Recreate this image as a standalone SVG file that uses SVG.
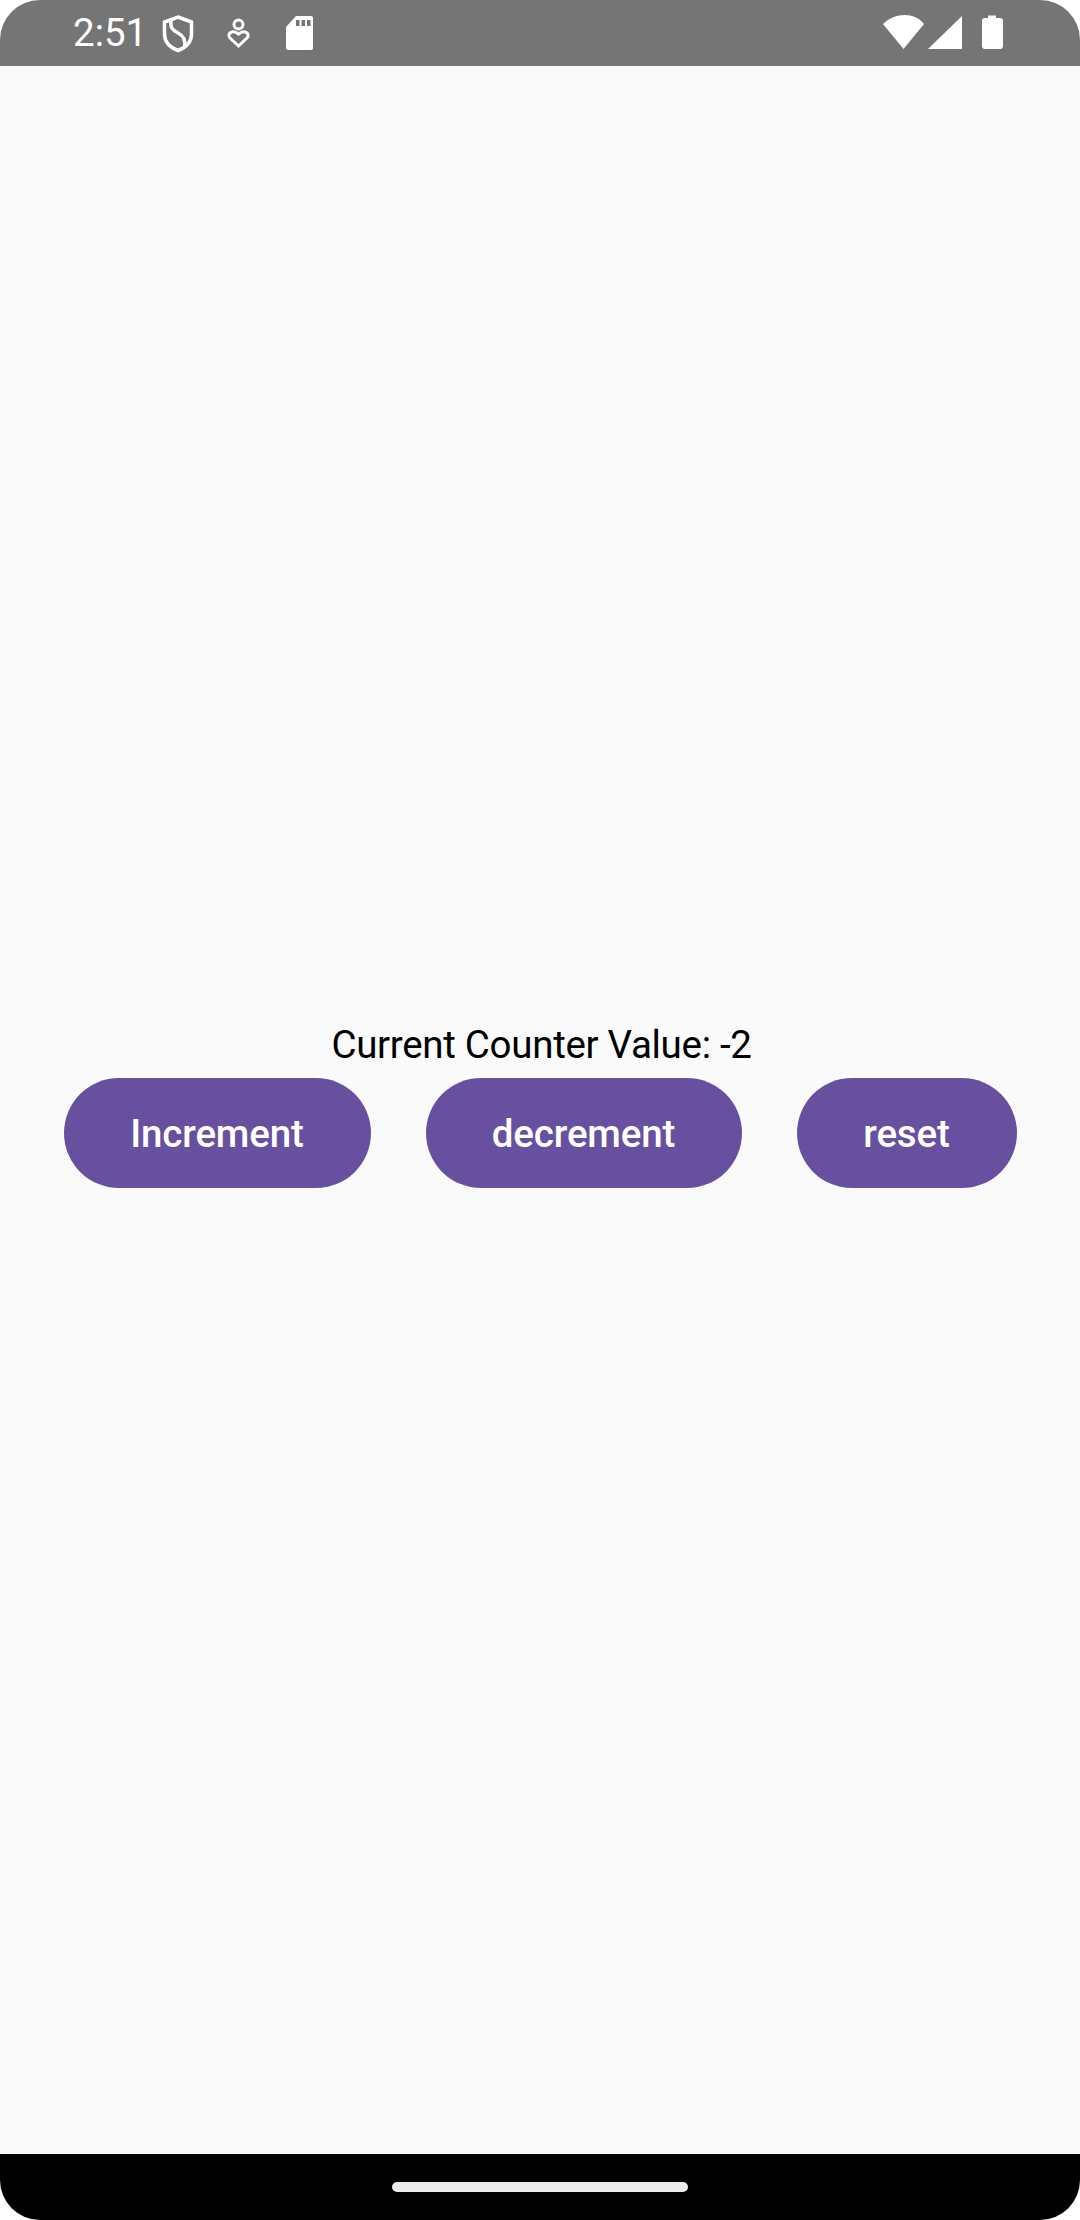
<svg xmlns="http://www.w3.org/2000/svg" width="1080" height="2220" viewBox="0 0 1080 2220">
<style>
.t{font-family:Roboto,"Liberation Sans",sans-serif}
.btn{fill:#67509f}
.lbl{font-size:38.5px;font-weight:500;fill:#fff;text-anchor:middle;letter-spacing:-0.15px}
.ic{fill:#fff}
.ol{fill:none;stroke:#fff}
</style>
<rect width="1080" height="2220" fill="#fff"/>
<path d="M0 40A40 40 0 0 1 40 0H1040A40 40 0 0 1 1080 40V2180A40 40 0 0 1 1040 2220H40A40 40 0 0 1 0 2180Z" fill="#fafafa"/>
<g id="status-bar">
<path d="M0 66V40A40 40 0 0 1 40 0H1040A40 40 0 0 1 1080 40V66Z" fill="#757575"/>
<text class="t" x="73" y="46" font-size="38.5" fill="#fff">2:51</text>
<path class="ol" stroke-width="3.5" d="M178 17L191.500 22V34C191.500 42 186 47.500 178 50.500C170 47.500 164.500 42 164.500 34V22Z"/>
<path class="ol" stroke-width="3.500" d="M171 20C170 27 172 30 178 33C184 36 186 40 184.500 47"/>
<circle class="ol" stroke-width="3" cx="238.500" cy="24.500" r="4.500"/>
<path class="ol" stroke-width="3" d="M238.500 46L230 38C226.500 34 232 29 238.500 34C245 29 250.500 34 247 38Z"/>
<path class="ic" d="M296 16H311A2 2 0 0 1 313 18V48A2 2 0 0 1 311 50H288A2 2 0 0 1 286 48V27Z"/>
<path fill="#757575" d="M296 20h3.500v6h-3.500zM301.500 20h3.500v6h-3.500zM307 20h3.500v6h-3.500z"/>
<path class="ic" d="M883 24C895 12 915 12 924 24L903.500 49Z"/>
<path class="ic" d="M928 49L962 16V49Z"/>
<path class="ic" d="M988 18V15.500H996V18H1000A3 3 0 0 1 1003 21V46A3 3 0 0 1 1000 49H985A3 3 0 0 1 982 46V21A3 3 0 0 1 985 18Z"/>
</g>
<g id="counter-label">
<text class="t" x="541.500" y="1058" font-size="38.5" fill="#000" text-anchor="middle" letter-spacing="-0.3">Current Counter Value: -2</text>
</g>
<g id="btn-increment">
<rect class="btn" x="64" y="1078" width="307" height="110" rx="55"/>
<text class="t lbl" x="217" y="1147">Increment</text>
</g>
<g id="btn-decrement">
<rect class="btn" x="426" y="1078" width="316" height="110" rx="55"/>
<text class="t lbl" x="583.500" y="1147">decrement</text>
</g>
<g id="btn-reset">
<rect class="btn" x="797" y="1078" width="220" height="110" rx="55"/>
<text class="t lbl" x="906.500" y="1147">reset</text>
</g>
<g id="connectors"></g>
<g id="nav-bar">
<path d="M0 2154H1080V2180A40 40 0 0 1 1040 2220H40A40 40 0 0 1 0 2180Z" fill="#000"/>
<rect x="392" y="2182" width="296" height="10" rx="5" fill="#ececec"/>
</g>
</svg>
